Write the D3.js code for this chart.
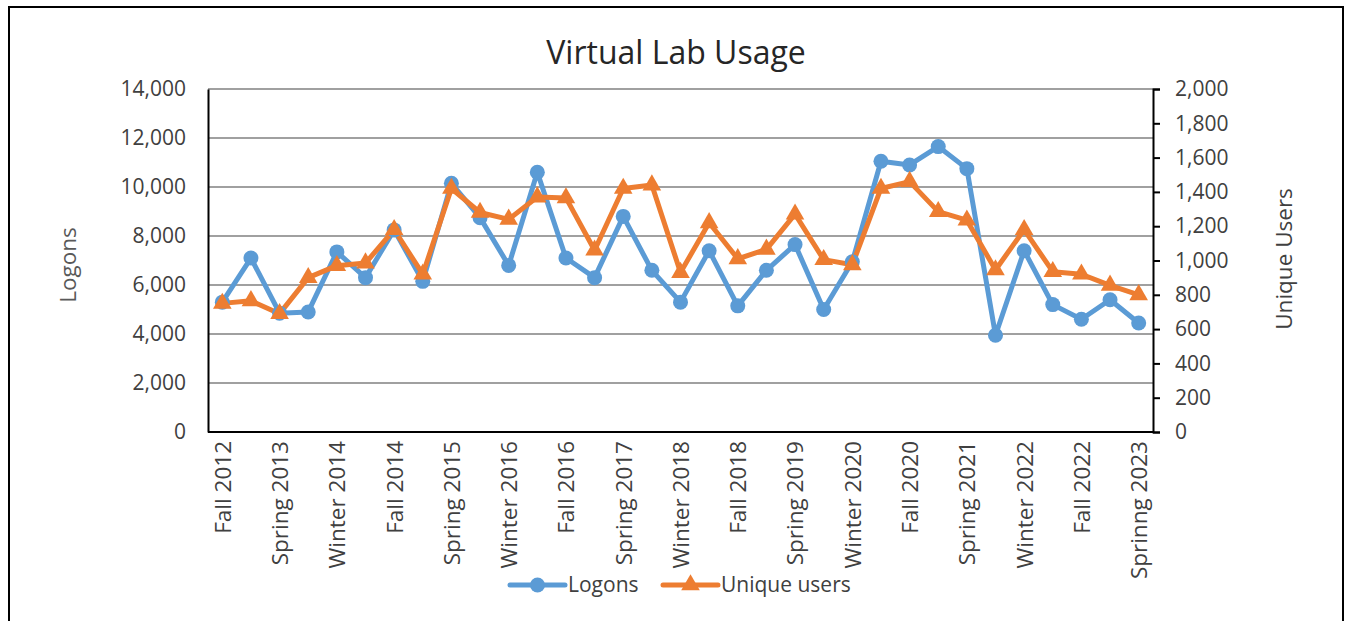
<!DOCTYPE html>
<html><head><meta charset="utf-8">
<script src="https://cdn.jsdelivr.net/npm/d3@7/dist/d3.min.js"></script>
<style>
html,body{margin:0;padding:0;background:#fff;}
svg{display:block;font-family:"Open Sans",sans-serif;}
</style></head>
<body>
<svg id="chart" width="1346" height="621"></svg>
<script>
const categories = ["Fall 2012","Winter 2013","Spring 2013","Fall 2013","Winter 2014","Spring 2014","Fall 2014","Winter 2015","Spring 2015","Fall 2015","Winter 2016","Spring 2016","Fall 2016","Winter 2017","Spring 2017","Fall 2017","Winter 2018","Spring 2018","Fall 2018","Winter 2019","Spring 2019","Fall 2019","Winter 2020","Spring 2020","Fall 2020","Winter 2021","Spring 2021","Fall 2021","Winter 2022","Spring 2022","Fall 2022","Winter 2023","Sprinng 2023"];
const logons = [5300,7100,4850,4900,7350,6300,8250,6150,10150,8750,6800,10600,7100,6300,8800,6600,5300,7400,5150,6600,7650,5000,6950,11050,10900,11650,10750,3950,7400,5200,4600,5400,4450];
const users = [750,765,690,900,970,985,1180,920,1420,1280,1240,1370,1365,1060,1420,1440,930,1220,1010,1065,1270,1005,975,1420,1460,1285,1235,945,1180,935,920,855,800];
const leftTicks = [0,2000,4000,6000,8000,10000,12000,14000];
const rightTicks = [0,200,400,600,800,1000,1200,1400,1600,1800,2000];
const seriesNames = ["Logons","Unique users"];
const title = "Virtual Lab Usage";

const svg = d3.select("#chart");
const L = 208, R = 1153, T = 89, B = 432;
const blue = "#5B9BD5", orange = "#ED7D31", textCol = "#404040";

// outer border
svg.append("rect").attr("x",9).attr("y",7).attr("width",1334).attr("height",630)
  .attr("fill","none").attr("stroke","#000").attr("stroke-width",2);

const x = d3.scalePoint().domain(categories).range([L, R]).padding(0.5);
const yL = d3.scaleLinear().domain([0,14000]).range([B, T]);
const yR = d3.scaleLinear().domain([0,2000]).range([B, T]);
const fmt = d3.format(",");

// gridlines
svg.append("g").selectAll("line").data(leftTicks.filter(d=>d>0)).join("line")
  .attr("x1",L).attr("x2",R).attr("y1",d=>yL(d)).attr("y2",d=>yL(d))
  .attr("stroke","#A0A0A0").attr("stroke-width",2);

// left axis
const gl = svg.append("g").attr("transform",`translate(${L},0)`)
  .call(d3.axisLeft(yL).tickValues(leftTicks).tickFormat(fmt).tickSize(0).tickPadding(22));
gl.select(".domain").attr("stroke","#000").attr("stroke-width",2);
gl.selectAll("text").attr("fill",textCol).style("font-size","21px").style("font-family","'Open Sans',sans-serif");

// right axis
const gr = svg.append("g").attr("transform",`translate(${R},0)`)
  .call(d3.axisRight(yR).tickValues(rightTicks).tickFormat(fmt).tickSize(7).tickPadding(15));
gr.select(".domain").attr("stroke","#000").attr("stroke-width",2);
gr.selectAll(".tick line").attr("stroke","#000").attr("stroke-width",2);
gr.selectAll("text").attr("fill",textCol).style("font-size","21px").style("font-family","'Open Sans',sans-serif");

// x axis
const gx = svg.append("g").attr("transform",`translate(0,${B})`)
  .call(d3.axisBottom(x).tickSize(0).tickValues(categories.filter((d,i)=>i%2===0)));
gx.select(".domain").attr("d",`M${L},0H${R}`).attr("stroke","#000").attr("stroke-width",2);
gx.selectAll("text")
  .attr("transform","rotate(-90)")
  .attr("x",-9).attr("y",0).attr("dy","0.35em")
  .attr("text-anchor","end")
  .attr("fill",textCol).style("font-size","22.5px").style("font-family","'Open Sans',sans-serif");

// lines
const lineL = d3.line().x((d,i)=>x(categories[i])).y(d=>yL(d));
const lineR = d3.line().x((d,i)=>x(categories[i])).y(d=>yR(d));
svg.append("path").datum(logons).attr("d",lineL).attr("fill","none")
  .attr("stroke",blue).attr("stroke-width",5).attr("stroke-linejoin","round");
svg.append("path").datum(users).attr("d",lineR).attr("fill","none")
  .attr("stroke",orange).attr("stroke-width",5).attr("stroke-linejoin","round");

svg.append("g").selectAll("circle").data(logons).join("circle")
  .attr("cx",(d,i)=>x(categories[i])).attr("cy",d=>yL(d)).attr("r",7.5).attr("fill",blue);
const tri = d3.symbol().type(d3.symbolTriangle).size(150);
svg.append("g").selectAll("path").data(users).join("path")
  .attr("transform",(d,i)=>`translate(${x(categories[i])},${yR(d)})`)
  .attr("d",tri).attr("fill",orange);

// title
svg.append("text").attr("x",676).attr("y",64).attr("text-anchor","middle")
  .attr("fill","#262626").style("font-size","32px").text(title);

// axis titles
svg.append("text").attr("transform","translate(68,265) rotate(-90)")
  .attr("text-anchor","middle").attr("dy","0.35em").attr("fill","#595959")
  .style("font-size","22.5px").text("Logons");
svg.append("text").attr("transform","translate(1284,259) rotate(-90)")
  .attr("text-anchor","middle").attr("dy","0.35em").attr("fill",textCol)
  .style("font-size","22.5px").text("Unique Users");

// legend
const lg = svg.append("g");
const legendItems = [{name:seriesNames[0],color:blue,x0:510,sym:"circle"},{name:seriesNames[1],color:orange,x0:663,sym:"tri"}];
const ly = 585;
legendItems.forEach(it=>{
  lg.append("line").attr("x1",it.x0).attr("x2",it.x0+55).attr("y1",ly).attr("y2",ly)
    .attr("stroke",it.color).attr("stroke-width",5).attr("stroke-linecap","round");
  if(it.sym==="circle"){
    lg.append("circle").attr("cx",it.x0+27.5).attr("cy",ly).attr("r",7.5).attr("fill",it.color);
  } else {
    lg.append("path").attr("transform",`translate(${it.x0+27.5},${ly})`).attr("d",tri).attr("fill",it.color);
  }
  lg.append("text").attr("x",it.x0+58).attr("y",ly).attr("dy","0.35em")
    .attr("fill",textCol).style("font-size","21px").text(it.name);
});
</script>
</body></html>
